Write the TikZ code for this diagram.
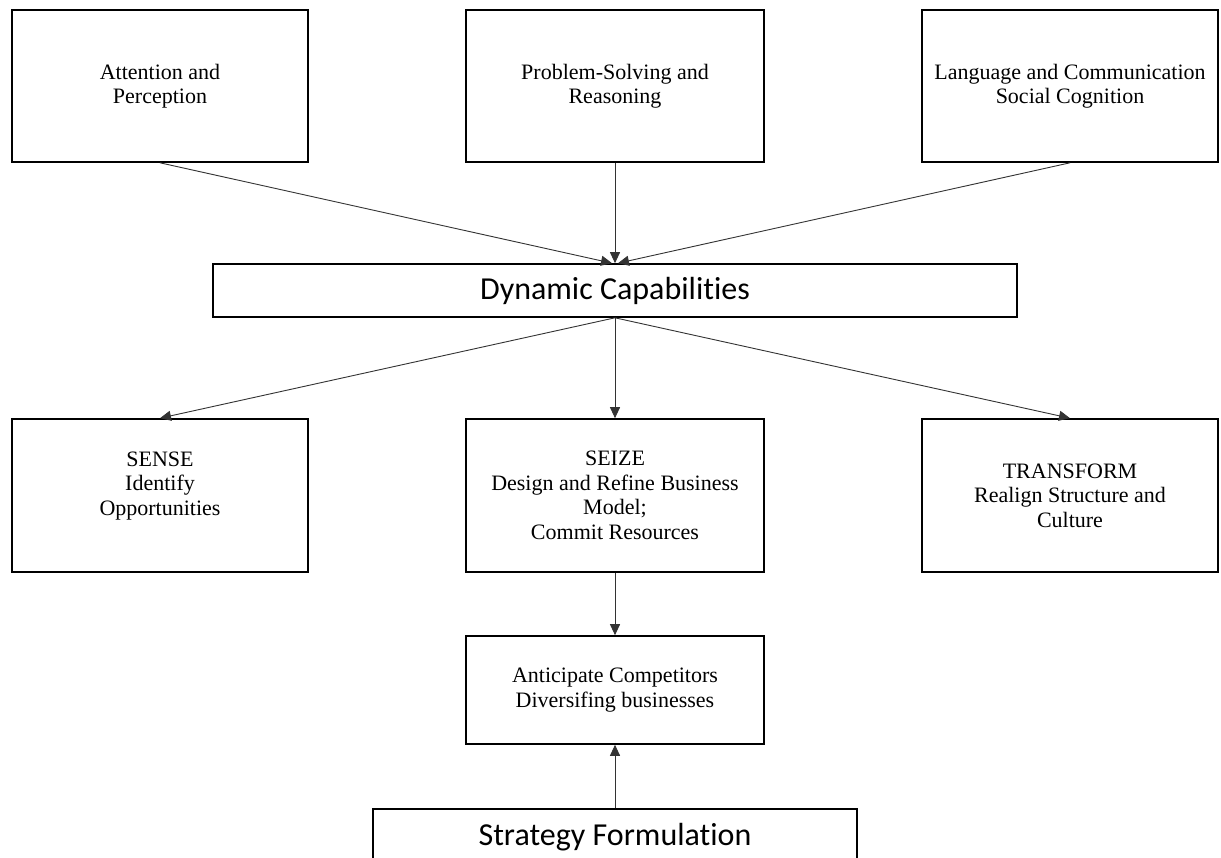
\documentclass[tikz,border=0pt]{standalone}
\usepackage{fontspec}
\setmainfont{Liberation Serif}
\newfontfamily\calibri[Ligatures=NoCommon]{Carlito}
\usetikzlibrary{arrows.meta}

\tikzset{
  box/.style={draw=black, line width=1.6pt, fill=white, inner sep=0pt,
    align=center, font=\fontsize{22}{24.5}\selectfont},
  bigbox/.style={box, font=\calibri\fontsize{32}{38}\selectfont},
  arr/.style={draw=black!80, line width=0.9pt,
    -{Triangle[length=11pt,width=10pt]}}
}

\begin{document}
\begin{tikzpicture}[x=1pt, y=-1pt]
  \useasboundingbox (0,0) rectangle (1221,858);
  \clip (0,0) rectangle (1221,858);
  \fill[white] (0,0) rectangle (1221,858);

  % cognitive foundations
  \node[box, minimum width=296pt, minimum height=152pt] (att) at (160,86)
    {Attention and\\Perception};
  \node[box, minimum width=298pt, minimum height=152pt] (prob) at (615,86)
    {Problem-Solving and\\Reasoning};
  \node[box, minimum width=296pt, minimum height=152pt] (lang) at (1070,86)
    {Language and Communication\\Social Cognition};

  % central capability
  \node[bigbox, minimum width=804pt, minimum height=53pt] (dc) at (615,290.5)
    {Dynamic Capabilities};

  % microfoundations
  \node[box, minimum width=296pt, minimum height=153pt] (sense) at (160,495.5)
    {SENSE\\Identify\\Opportunities\\\mbox{}};
  \node[box, minimum width=298pt, minimum height=153pt] (seize) at (615,495.5)
    {SEIZE\\Design and Refine Business\\Model;\\Commit Resources};
  \node[box, minimum width=296pt, minimum height=153pt] (trans) at (1070,495.5)
    {TRANSFORM\\Realign Structure and\\Culture};

  % outcomes
  \node[box, minimum width=298pt, minimum height=108pt] (anti) at (615,690)
    {Anticipate Competitors\\Diversifing businesses};
  \node[bigbox, minimum width=484pt, minimum height=56pt] (strat) at (615,837)
    {Strategy Formulation};

  % connectors
  \draw[arr] (att.south) -- ([xshift=-3pt]dc.north);
  \draw[arr] (prob.south) -- (dc.north);
  \draw[arr] (lang.south) -- ([xshift=3pt]dc.north);

  \draw[arr] (dc.south) -- (sense.north);
  \draw[arr] (dc.south) -- (seize.north);
  \draw[arr] (dc.south) -- (trans.north);

  \draw[arr] (seize.south) -- (anti.north);
  \draw[arr] (strat.north) -- (anti.south);
\end{tikzpicture}
\end{document}
